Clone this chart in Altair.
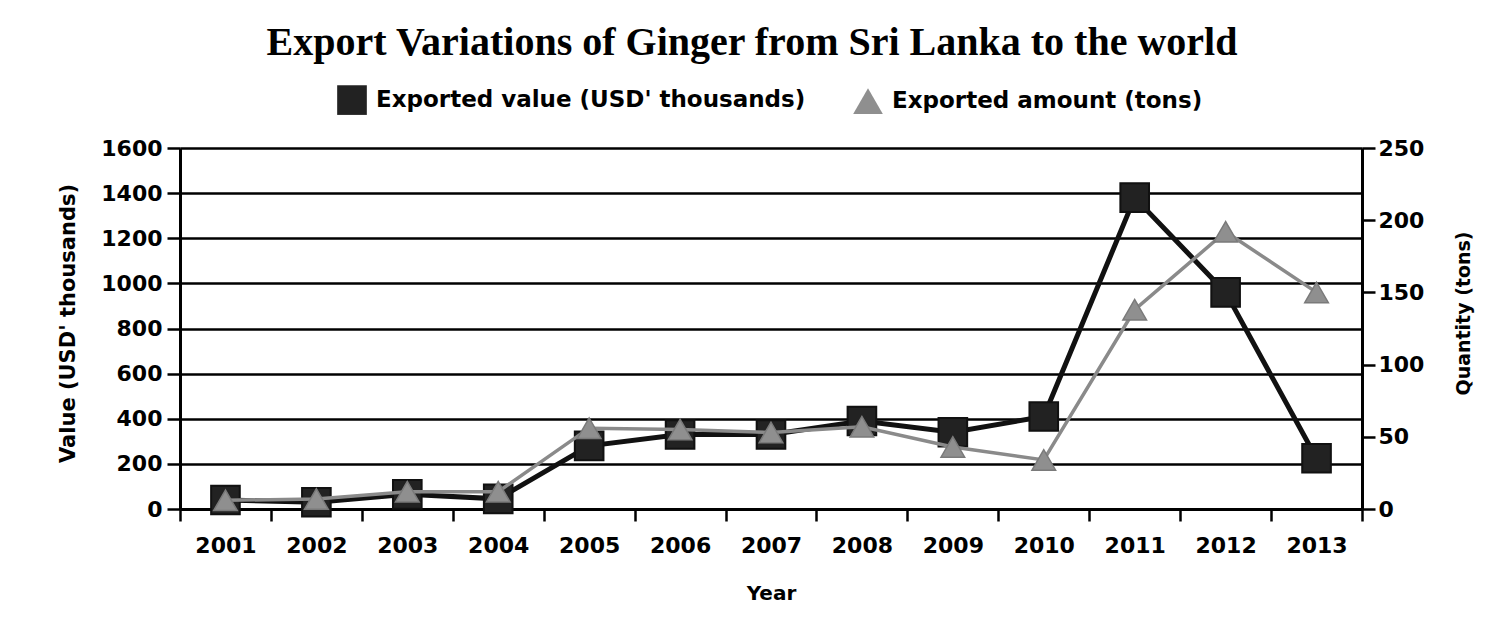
import altair as alt
import pandas as pd

years = ["2001", "2002", "2003", "2004", "2005", "2006", "2007",
         "2008", "2009", "2010", "2011", "2012", "2013"]
export_value = [40, 30, 65, 45, 280, 330, 330, 390, 340, 410, 1380, 960, 225]
export_amount = [6, 7, 12, 12, 56, 55, 53, 57, 43, 34, 138, 192, 150]

s_value = "Exported value (USD' thousands)"
s_amount = "Exported amount (tons)"

df = pd.DataFrame({
    "Year": years * 2,
    "Series": [s_value] * len(years) + [s_amount] * len(years),
    "Val": export_value + export_amount,
})

base = alt.Chart(df)

x_enc = alt.X(
    "Year:O",
    scale=alt.Scale(type="band", paddingInner=0, paddingOuter=0),
    bandPosition=0.5,
    axis=alt.Axis(
        title="Year", tickBand="extent", labelAngle=0,
        labelFont="DejaVu Sans", labelFontSize=22, labelFontWeight="bold",
        labelColor="#000", labelPadding=14, tickSize=12, tickWidth=2.5,
        tickColor="#000", domainColor="#000", domainWidth=3,
        titleFont="DejaVu Sans", titleFontSize=20, titleFontWeight="bold",
        titleColor="#000", titlePadding=27, grid=False,
    ),
)

legend_cfg = alt.Legend(
    title=None, orient="none", legendX=157, legendY=-63,
    direction="horizontal", labelFont="DejaVu Sans", labelFontSize=23,
    labelFontWeight="bold", labelColor="#000", symbolSize=880,
    columnPadding=47, labelOffset=9, symbolStrokeWidth=0, labelLimit=0,
)

color_enc = alt.Color(
    "Series:N",
    scale=alt.Scale(domain=[s_value, s_amount], range=["#222222", "#8f8f8f"]),
    legend=legend_cfg,
)
shape_enc = alt.Shape(
    "Series:N",
    scale=alt.Scale(domain=[s_value, s_amount], range=["square", "triangle-up"]),
    legend=legend_cfg,
)

y_left = alt.Y(
    "Val:Q",
    scale=alt.Scale(domain=[0, 1600]),
    axis=alt.Axis(
        title="Value (USD' thousands)", values=list(range(0, 1601, 200)),
        format="d", orient="left", grid=True, gridColor="#000",
        gridWidth=2.6, gridOpacity=1,
        labelFont="DejaVu Sans", labelFontSize=22, labelFontWeight="bold",
        labelColor="#000", labelPadding=5, tickSize=13, tickWidth=2.5,
        tickColor="#000", domainColor="#000", domainWidth=3,
        titleFont="DejaVu Sans", titleFontSize=21, titleFontWeight="bold",
        titleColor="#000", titlePadding=22, titleY=175,
    ),
)
y_right = alt.Y(
    "Val:Q",
    scale=alt.Scale(domain=[0, 250]),
    axis=alt.Axis(
        title="Quantity (tons)", values=list(range(0, 251, 50)),
        format="d", orient="right", grid=False,
        labelFont="DejaVu Sans", labelFontSize=22, labelFontWeight="bold",
        labelColor="#000", labelPadding=3, tickSize=13, tickWidth=2.5,
        tickColor="#000", domainColor="#000", domainWidth=3,
        titleFont="DejaVu Sans", titleFontSize=19, titleFontWeight="bold",
        titleColor="#000", titlePadding=50, titleAngle=270, titleY=165,
    ),
)

v_data = base.transform_filter(alt.datum.Series == s_value)
a_data = base.transform_filter(alt.datum.Series == s_amount)

v_line = v_data.mark_line(color="#111111", strokeWidth=5).encode(x=x_enc, y=y_left)
v_pts = v_data.mark_point(filled=True, opacity=1, size=820, stroke="#111111",
                          strokeWidth=2).encode(
    x=x_enc, y=y_left, color=color_enc, shape=shape_enc)
a_line = a_data.mark_line(color="#8a8a8a", strokeWidth=3.5).encode(x=x_enc, y=y_right)
a_pts = a_data.mark_point(filled=True, opacity=1, size=560, stroke="#7a7a7a",
                          strokeWidth=1.5).encode(
    x=x_enc, y=y_right, color=color_enc, shape=shape_enc)

left = alt.layer(v_line, v_pts)
right = alt.layer(a_line, a_pts)

chart = alt.layer(left, right).resolve_scale(y="independent").properties(
    width=1182,
    height=361,
    autosize=alt.AutoSizeParams(type="none"),
    padding={"left": 172, "top": 140, "right": 118, "bottom": 109},
    title=alt.TitleParams(
        text="Export Variations of Ginger from Sri Lanka to the world",
        font="Liberation Serif", fontSize=40, fontWeight="bold", color="#000",
        anchor="middle", frame="group", offset=22, dx=-19,
    ),
).configure_view(stroke=None).configure(background="white")

chart.save("out.html", embed_options={"renderer": "svg", "actions": False})
